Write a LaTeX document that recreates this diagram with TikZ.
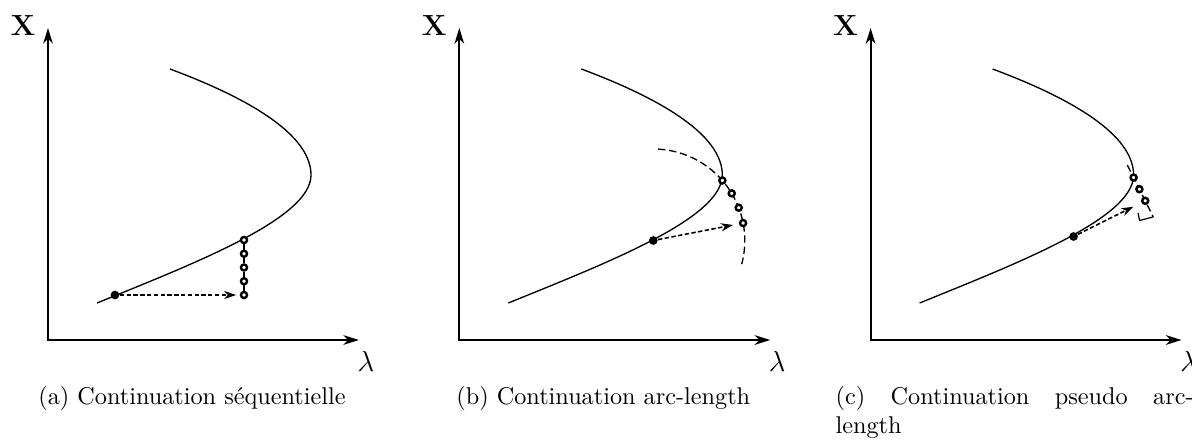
\documentclass[tikz,border=0pt]{standalone}
\usetikzlibrary{arrows.meta, calc}

\begin{document}
\begin{tikzpicture}[
    x=0.0145cm, y=0.0145cm,
    axis/.style={
        draw,
        line width=0.8pt,
        {Stealth[length=6.5pt, width=4pt, inset=2pt]}-{Stealth[length=6.5pt, width=4pt, inset=2pt]}
    },
    branch/.style={
        draw,
        line width=0.55pt
    },
    predArrow/.style={
        draw,
        -{Stealth[length=5pt, width=3.4pt, inset=1.6pt]},
        line width=0.65pt,
        dash pattern=on 1.8pt off 1pt
    },
    corrLine/.style={
        draw,
        line width=0.55pt,
        dash pattern=on 3pt off 1.6pt
    },
    startDot/.style={
        circle,
        fill,
        inner sep=0,
        minimum size=3.6pt
    },
    iterCircle/.style={
        circle,
        draw,
        line width=1pt,
        fill=white,
        inner sep=0,
        minimum size=2.5pt
    },
    axisLabel/.style={font=\large},
    capText/.style={
        text width=5.19cm,
        inner sep=0,
        anchor=north
    }
]

\useasboundingbox (0,0) rectangle (1192,439);

% --- (a) Sequential continuation ---
\begin{scope}[shift={(48,99)}]
    \coordinate (oA) at (0,0);
    \coordinate (yEndA) at (0,312);
    \coordinate (xEndA) at (311,0);
    \draw[axis] (yEndA) -- (oA) -- (xEndA);
    \node[axisLabel] (xLabA) at (-25,314) {$\mathbf{X}$};
    \node[axisLabel] (lamA) at (318,-21) {$\lambda$};

    \draw[branch] (49,37) .. controls (150,78) and (263,122) .. (263,165)
        .. controls (263,200) and (216,236) .. (122,271);

    \node[startDot] (dotA) at (67,45) {};
    \node[iterCircle] (circA1) at (196,45) {};
    \node[iterCircle] (circA2) at (196,58.75) {};
    \node[iterCircle] (circA3) at (196,72.5) {};
    \node[iterCircle] (circA4) at (196,86.25) {};
    \node[iterCircle] (circA5) at (196,100) {};
    \draw[line width=0.55pt] (circA1) -- (circA2) -- (circA3) -- (circA4) -- (circA5);
    \draw[predArrow, shorten >=1.5pt] (dotA) -- (circA1);

    \node[capText, align=center] (capA) at (144,-45.8) {(a) Continuation séquentielle};
\end{scope}

% --- (b) Arc-length continuation ---
\begin{scope}[shift={(459.3,99)}]
    \coordinate (oB) at (0,0);
    \coordinate (yEndB) at (0,312);
    \coordinate (xEndB) at (311,0);
    \draw[axis] (yEndB) -- (oB) -- (xEndB);
    \node[axisLabel] (xLabB) at (-25,314) {$\mathbf{X}$};
    \node[axisLabel] (lamB) at (318,-21) {$\lambda$};

    \draw[branch] (49,37) .. controls (150,78) and (263,122) .. (263,165)
        .. controls (263,200) and (216,236) .. (122,271);

    \node[startDot] (dotB) at (194,99.5) {};
    \draw[corrLine] ([shift={(87:91.5)}]dotB.center) arc[start angle=87, end angle=-15, radius=91.5];
    \node[iterCircle] (circB1) at ([shift={(41:91.5)}]dotB.center) {};
    \node[iterCircle] (circB2) at ([shift={(31:91.5)}]dotB.center) {};
    \node[iterCircle] (circB3) at ([shift={(21:91.5)}]dotB.center) {};
    \node[iterCircle] (circB4) at ([shift={(11:91.5)}]dotB.center) {};
    \draw[predArrow, shorten >=2.5pt] (dotB) -- (circB4);

    \node[capText, align=center] (capB) at (144,-45.8) {(b) Continuation arc-length};
\end{scope}

% --- (c) Pseudo arc-length continuation ---
\begin{scope}[shift={(870.6,99)}]
    \coordinate (oC) at (0,0);
    \coordinate (yEndC) at (0,312);
    \coordinate (xEndC) at (311,0);
    \draw[axis] (yEndC) -- (oC) -- (xEndC);
    \node[axisLabel] (xLabC) at (-25,314) {$\mathbf{X}$};
    \node[axisLabel] (lamC) at (318,-21) {$\lambda$};

    \draw[branch] (49,37) .. controls (150,78) and (263,122) .. (263,165)
        .. controls (263,200) and (216,236) .. (122,271);

    \node[startDot] (dotC) at (203,103.5) {};
    \coordinate (footC) at ([shift={(26.5:80)}]dotC.center);
    \coordinate (corrTopC) at ([shift={(116.5:40)}]footC);
    \coordinate (corrBotC) at ([shift={(-63.5:18)}]footC);
    \draw[corrLine] (corrTopC) -- (corrBotC);
    \node[iterCircle] (circC1) at ([shift={(116.5:26)}]footC) {};
    \node[iterCircle] (circC2) at ([shift={(116.5:13)}]footC) {};
    \node[iterCircle] (circC3) at (footC) {};
    \draw[predArrow, shorten >=3.7pt] (dotC) -- (circC3);
    % right angle mark
    \draw[line width=0.5pt] (267.5,127) -- (269,119.5) -- (corrBotC);

    \node[capText, align=justify] (capC) at (144,-45.8) {(c) Continuation pseudo arc-length};
\end{scope}

\end{tikzpicture}
\end{document}
